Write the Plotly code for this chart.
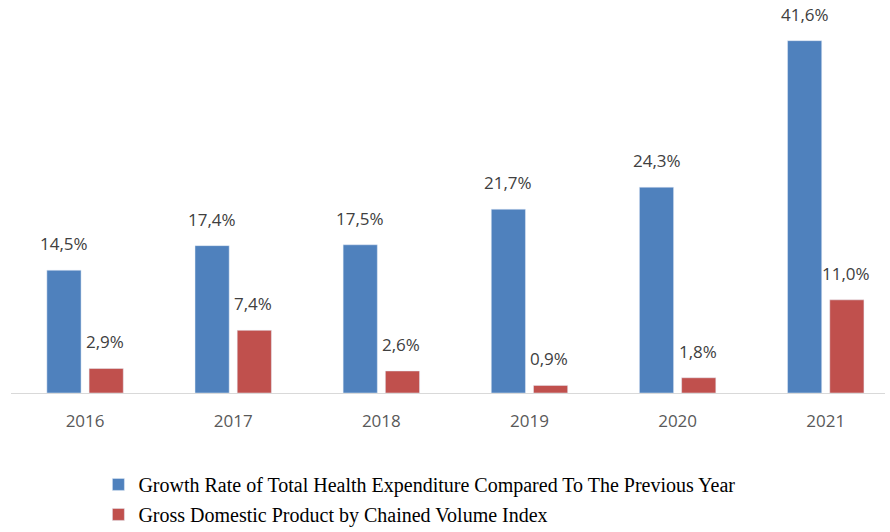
import plotly.graph_objects as go

# Years on the category axis
years = ["2016", "2017", "2018", "2019", "2020", "2021"]

# Annual rates in percent
health_growth = [14.5, 17.4, 17.5, 21.7, 24.3, 41.6]
gdp_growth = [2.9, 7.4, 2.6, 0.9, 1.8, 11.0]

health_name = "Growth Rate of Total Health Expenditure Compared To The Previous Year"
gdp_name = "Gross Domestic Product by Chained Volume Index"

BLUE = "#4F81BD"
RED = "#C0504D"


def pct(v):
    return f"{v:.1f}".replace(".", ",") + "%"


fig = go.Figure()
fig.add_trace(go.Bar(x=years, y=health_growth, name=health_name,
                     marker_color=BLUE, legendgroup="a"))
fig.add_trace(go.Bar(x=years, y=gdp_growth, name=gdp_name,
                     marker_color=RED, legendgroup="b"))

# value labels above each bar (x given as category index)
annotations = []
for series, shift in ((health_growth, -21), (gdp_growth, 20)):
    for i, v in enumerate(series):
        annotations.append(dict(
            x=i, y=v, xref="x", yref="y", text=pct(v), showarrow=False,
            xshift=shift, yshift=13, yanchor="bottom",
            font=dict(family="Open Sans", size=17, color="#404040"),
        ))

fig.update_layout(
    width=890, height=532,
    margin=dict(l=11, r=5, t=0, b=139, autoexpand=False),
    paper_bgcolor="white", plot_bgcolor="white",
    barmode="group", bargap=0.43, bargroupgap=0.19,
    showlegend=True,
    legend=dict(
        x=0.1, xanchor="left", y=-0.183, yanchor="top",
        orientation="v", tracegroupgap=1,
        font=dict(family="Liberation Serif", size=20, color="#000000"),
        bgcolor="rgba(0,0,0,0)",
    ),
    annotations=annotations,
)
fig.update_xaxes(
    type="category",
    showline=True, linecolor="#D9D9D9", linewidth=1,
    showgrid=False, ticks="", ticklabelstandoff=13,
    tickfont=dict(family="Open Sans", size=17, color="#595959"),
    range=[-0.5, 5.4],
)
fig.update_yaxes(visible=False, range=[0, 46.4], showgrid=False, zeroline=False)

fig.write_html("out.html")
